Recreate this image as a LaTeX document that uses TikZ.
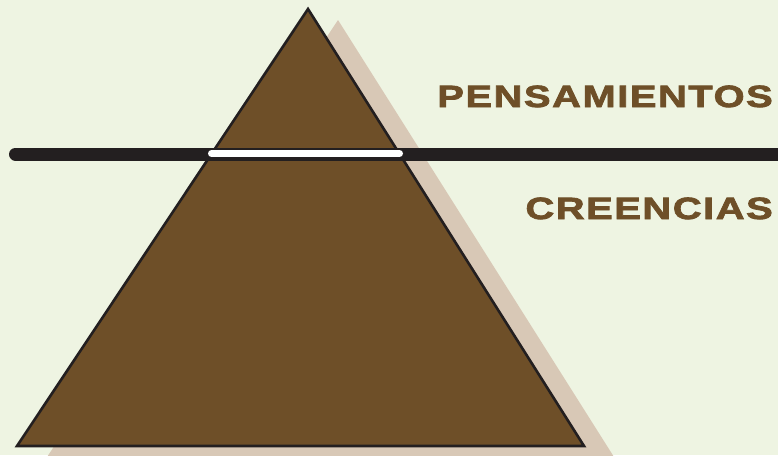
\documentclass[tikz,border=0pt]{standalone}
\usepackage{fontspec}
\newfontfamily\labelfont[FakeStretch=1.3, FakeBold=2.5, LetterSpace=5]{Liberation Sans Bold}
\usepackage{tikz}
\usetikzlibrary{positioning}

\definecolor{bgcol}{HTML}{EEF4E2}
\definecolor{brown}{HTML}{6E4F28}
\definecolor{shadowcol}{HTML}{D8C8B6}
\definecolor{inkcol}{HTML}{231F20}

\tikzset{
  label/.style={font=\labelfont\fontsize{30.7}{32}\selectfont, text=brown, anchor=base east, inner sep=0pt},
}

\begin{document}
\begin{tikzpicture}[x=1pt, y=-1pt]
  % Background
  \fill[bgcol] (0,0) rectangle (778,455);
  \useasboundingbox (0,0) rectangle (778,455);

  % Corners of the pyramid
  \coordinate (top) at (308,9);
  \coordinate (bl) at (17,446);
  \coordinate (br) at (584,446);

  % Shadow
  \fill[shadowcol] ([shift={(30,11)}]top) -- ([shift={(30,11)}]bl) -- ([shift={(30,11)}]br) -- cycle;

  % Pyramid
  \draw[inkcol, line width=2.6pt, line join=miter, fill=brown] (top) -- (bl) -- (br) -- cycle;

  % Dividing line
  \coordinate (lineL) at (15.5,154);
  \coordinate (lineR) at (790,154);
  \draw[inkcol, line width=13pt, line cap=round] (lineL) -- (lineR);
  \coordinate (gapL) at (211.5,153.5);
  \coordinate (gapR) at (399.5,153.5);
  \draw[white, line width=7pt, line cap=round] (gapL) -- (gapR);

  % Labels
  \node[label] (thoughts) at (773,107) {PENSAMIENTOS};
  \node[label] (beliefs) at (773,219) {CREENCIAS};
\end{tikzpicture}
\end{document}
